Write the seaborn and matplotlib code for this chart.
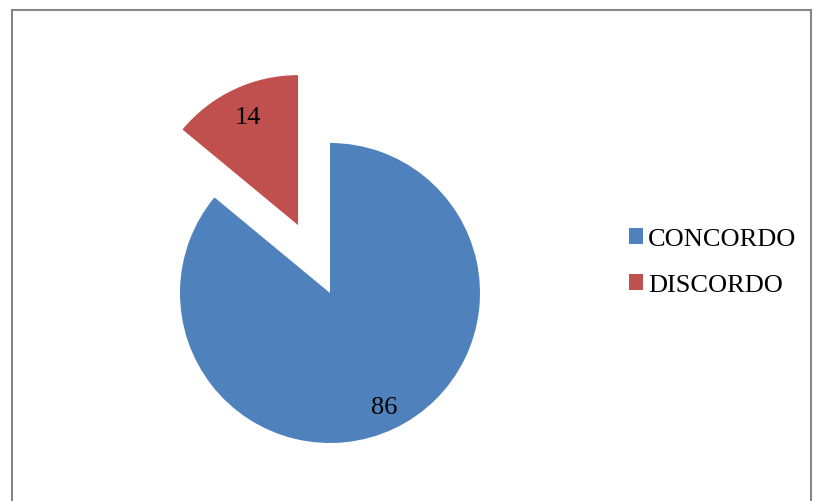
import matplotlib
matplotlib.use("Agg")
import matplotlib.pyplot as plt
import seaborn as sns
from matplotlib.patches import Rectangle, Patch

categories = ["CONCORDO", "DISCORDO"]
values = [86, 14]
labels = ["86", "14"]
colors = ["#4F81BD", "#C0504D"]
explode = [0.0, 0.5]

sns.set_theme(style="white")
plt.rcParams['font.family'] = ['Liberation Serif', 'DejaVu Serif']
plt.rcParams['text.color'] = 'black'

W, H = 814, 501
fig = plt.figure(figsize=(W / 100, H / 100), dpi=100)
ax = fig.add_axes([0, 0, 1, 1])

cx, cy, R = 330, 293, 150
wedges, texts = ax.pie(values, colors=colors, explode=explode, startangle=90,
                       counterclock=False, radius=1, labels=labels, labeldistance=0.79,
                       textprops=dict(fontsize=19, color="black", ha="center", va="center"),
                       wedgeprops=dict(linewidth=0))
# the large slice's label sits a little further out
x0, y0 = texts[0].get_position()
texts[0].set_position((x0 * 0.85 / 0.79, y0 * 0.85 / 0.79))

ax.set_xlim(-cx / R, (W - cx) / R)
ax.set_ylim(-(H - cy) / R, cy / R)
ax.set_aspect('auto')
ax.axis('off')

# frame
fig.patches.append(Rectangle((12 / W, -0.1), (811 - 12) / W, 1.1 - 10 / H,
                             transform=fig.transFigure, fill=False,
                             edgecolor="#868686", linewidth=1.5))

handles = [Patch(facecolor=c, edgecolor='none') for c in colors]
leg = fig.legend(handles, categories, loc="center left",
                 bbox_to_anchor=(629 / W, 1 - 262.5 / H), frameon=False,
                 fontsize=19, handlelength=0.53, handleheight=0.53,
                 handletextpad=0.19, labelspacing=0.9, borderpad=0, borderaxespad=0,
                 labelcolor="black")

fig.savefig("out.png", dpi=100)
